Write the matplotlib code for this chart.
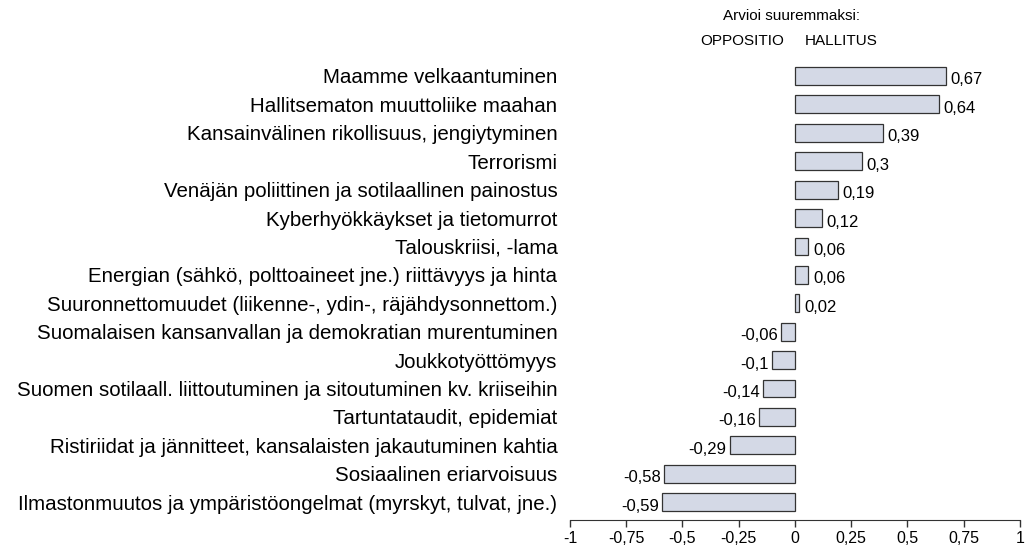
import matplotlib
matplotlib.use('Agg')
import matplotlib.pyplot as plt

# Aiheet ylhäältä alas ja arvot (positiivinen = hallitus, negatiivinen = oppositio)
aiheet = [
    'Maamme velkaantuminen',
    'Hallitsematon muuttoliike maahan',
    'Kansainvälinen rikollisuus, jengiytyminen',
    'Terrorismi',
    'Venäjän poliittinen ja sotilaallinen painostus',
    'Kyberhyökkäykset ja tietomurrot',
    'Talouskriisi, -lama',
    'Energian (sähkö, polttoaineet jne.) riittävyys ja hinta',
    'Suuronnettomuudet (liikenne-, ydin-, räjähdysonnettom.)',
    'Suomalaisen kansanvallan ja demokratian murentuminen',
    'Joukkotyöttömyys',
    'Suomen sotilaall. liittoutuminen ja sitoutuminen kv. kriiseihin',
    'Tartuntataudit, epidemiat',
    'Ristiriidat ja jännitteet, kansalaisten jakautuminen kahtia',
    'Sosiaalinen eriarvoisuus',
    'Ilmastonmuutos ja ympäristöongelmat (myrskyt, tulvat, jne.)',
]
arvot = [0.67, 0.64, 0.39, 0.3, 0.19, 0.12, 0.06, 0.06, 0.02,
         -0.06, -0.1, -0.14, -0.16, -0.29, -0.58, -0.59]
tikit = [-1, -0.75, -0.5, -0.25, 0, 0.25, 0.5, 0.75, 1]

plt.rcParams['font.family'] = ['Liberation Sans', 'DejaVu Sans']
kapea = ['Liberation Sans Narrow', 'Liberation Sans', 'DejaVu Sans']

fig = plt.figure(figsize=(10.27, 5.48), dpi=100)
ax = fig.add_axes([0.555, 0.051, 0.438, 0.843])

pos = list(range(len(arvot)))
ax.barh(pos, arvot, height=0.63, color='#d4d9e6', edgecolor='#333333', linewidth=0.9)
ax.set_ylim(len(arvot) - 1 + 0.63, -0.63)
ax.set_xlim(-1, 1)

def muotoile(v):
    return ('%g' % v).replace('.', ',')

for y, v in zip(pos, arvot):
    if v >= 0:
        ax.text(v + 0.02, y + 0.14, muotoile(v), ha='left', va='center', fontsize=12)
    else:
        ax.text(v - 0.015, y + 0.14, muotoile(v), ha='right', va='center', fontsize=12)

ax.set_yticks(pos)
ax.set_yticklabels(aiheet, fontsize=14.8)
ax.tick_params(axis='y', length=0, pad=9)

ax.set_xticks(tikit)
ax.set_xticklabels([muotoile(t) for t in tikit], fontsize=11.5)
ax.tick_params(axis='x', length=5, width=1, color='#333333', pad=3)

for s in ['top', 'right', 'left']:
    ax.spines[s].set_visible(False)
ax.spines['bottom'].set_color('#333333')

fig.text(0.771, 0.971, 'Arvioi suuremmaksi:', ha='center', va='center', fontsize=11)
fig.text(0.682, 0.925, 'OPPOSITIO', ha='left', va='center', fontsize=11, family=kapea)
fig.text(0.784, 0.925, 'HALLITUS', ha='left', va='center', fontsize=11, family=kapea)

fig.savefig('out.png', dpi=100)
